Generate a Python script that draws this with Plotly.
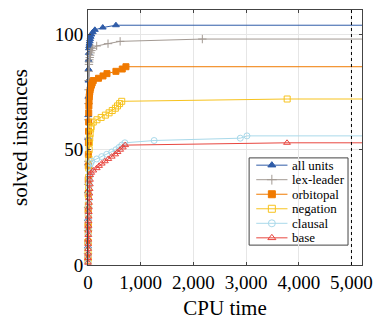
#!/usr/bin/env python3
"""Cactus plot: solved instances over CPU time for the symmetry-breaking variants."""

from __future__ import annotations

import plotly.graph_objects as go

# ---- data ------------------------------------------------------------------
SERIES_NAMES = ["all units", "lex-leader", "orbitopal", "negation", "clausal", "base"]

all_units_time = [0, 1, 2, 3, 4, 5, 6, 8, 10, 12, 15, 18, 22, 27, 33, 40, 50, 65, 90, 130, 280, 530, 6000]
all_units_solved = [8, 20, 32, 44, 55, 65, 73, 80, 85, 89, 92, 94, 95, 96, 97, 98, 99, 100, 101, 102, 103, 104, 104]

lex_leader_time = [0, 1, 2, 3, 4, 5, 6, 8, 10, 12, 15, 18, 22, 27, 33, 40, 50, 65, 90, 165, 380, 610, 2170, 6000]
lex_leader_solved = [5, 15, 25, 35, 45, 55, 63, 70, 76, 80, 84, 87, 88, 89, 90, 91, 92, 93, 94, 95, 96, 97, 98, 98]

orbitopal_time = [0, 1, 2, 3, 4, 5, 6, 7, 8, 10, 12, 14, 17, 20, 24, 28, 33, 40, 50, 65,
                  80, 100, 200, 285, 360, 530, 650, 720, 6000]
orbitopal_solved = [3, 10, 17, 24, 31, 37, 43, 48, 53, 58, 62, 66, 69, 71, 73, 74, 75, 76, 77, 78,
                    79, 80, 81, 82, 83, 84, 85, 86, 86]

negation_time = [0, 1, 2, 3, 4, 5, 6, 8, 10, 12, 15, 18, 22, 27, 33, 40, 50, 60, 100, 170,
                 250, 330, 400, 460, 520, 560, 600, 640, 3780, 6000]
negation_solved = [2, 6, 10, 14, 18, 22, 26, 30, 34, 38, 42, 46, 50, 53, 55, 57, 59, 60, 62, 63,
                   64, 65, 66, 67, 68, 69, 70, 71, 72, 72]

clausal_time = [0, 1, 2, 3, 4, 5, 6, 8, 10, 12, 15, 18, 22, 27, 33, 40, 50, 70, 165, 260,
                355, 450, 530, 590, 640, 700, 1255, 2890, 3017, 6000]
clausal_solved = [1, 4, 7, 10, 13, 16, 19, 22, 25, 28, 31, 34, 36, 38, 40, 42, 44, 45, 46, 47,
                  48, 49, 50, 51, 52, 53, 54, 55, 56, 56]

base_time = [0, 1, 2, 3, 4, 5, 6, 7, 8, 10, 12, 14, 16, 19, 22, 26, 30, 34, 37, 40,
             60, 100, 165, 210, 260, 320, 385, 450, 515, 560, 610, 660, 705, 3777, 6000]
base_solved = [1, 3, 5, 7, 9, 11, 13, 15, 17, 19, 21, 23, 25, 27, 29, 31, 33, 35, 37, 39,
               40, 41, 42, 43, 44, 45, 46, 47, 48, 49, 50, 51, 52, 53, 53]

TIME_LIMIT = 5000
x_ticks = [0, 1000, 2000, 3000, 4000, 5000]
y_ticks = [0, 50, 100]

# ---- styling ---------------------------------------------------------------
FONT = "Liberation Serif"
STYLES = {
    "all units": {"color": "#2f5ca8", "symbol": "triangle-up"},
    "lex-leader": {"color": "#a39a93", "symbol": "cross-thin"},
    "orbitopal": {"color": "#f07a00", "symbol": "square"},
    "negation": {"color": "#f7c31e", "symbol": "square-open"},
    "clausal": {"color": "#a9d9ea", "symbol": "circle-open"},
    "base": {"color": "#e8463f", "symbol": "triangle-up-open"},
}


def marker_for(name: str, size: int = 6) -> dict:
    style = STYLES[name]
    return {
        "symbol": style["symbol"],
        "size": size,
        "color": style["color"],
        "line": {"color": style["color"], "width": 1},
    }


def add_series(fig: go.Figure) -> None:
    data = [
        ("all units", all_units_time, all_units_solved),
        ("lex-leader", lex_leader_time, lex_leader_solved),
        ("orbitopal", orbitopal_time, orbitopal_solved),
        ("negation", negation_time, negation_solved),
        ("clausal", clausal_time, clausal_solved),
        ("base", base_time, base_solved),
    ]
    for name, times, solved in data:
        fig.add_trace(
            go.Scatter(
                x=times,
                y=solved,
                mode="lines+markers",
                name=name,
                line={"color": STYLES[name]["color"], "width": 1},
                marker=marker_for(name),
                cliponaxis=False,
                showlegend=False,
            )
        )


def add_manual_legend(fig: go.Figure) -> None:
    # pgfplots-style compact legend drawn on an invisible overlay axis (paper units)
    box = {"x0": 0.588, "x1": 0.949, "y0": 0.078, "y1": 0.42}
    fig.add_shape(
        type="rect", xref="paper", yref="paper", **box,
        line={"color": "#444444", "width": 1}, fillcolor="white", layer="between",
    )
    row_gap = (box["y1"] - box["y0"]) / len(SERIES_NAMES)
    seg_left, seg_right = box["x0"] + 0.026, box["x0"] + 0.14
    text_left = seg_right + 0.008
    for i, name in enumerate(SERIES_NAMES):
        y = box["y1"] - row_gap * (i + 0.5)
        color = STYLES[name]["color"]
        fig.add_trace(
            go.Scatter(
                x=[seg_left, seg_right], y=[y, y], xaxis="x2", yaxis="y2",
                mode="lines", line={"color": color, "width": 1},
                showlegend=False, hoverinfo="skip",
            )
        )
        fig.add_trace(
            go.Scatter(
                x=[(seg_left + seg_right) / 2], y=[y], xaxis="x2", yaxis="y2",
                mode="markers", marker=marker_for(name, 7),
                showlegend=False, hoverinfo="skip",
            )
        )
        fig.add_annotation(
            x=text_left, y=y, xref="paper", yref="paper", text=name,
            showarrow=False, xanchor="left", yanchor="middle",
            font={"family": FONT, "size": 13, "color": "black"},
        )


def build_figure() -> go.Figure:
    fig = go.Figure()
    add_series(fig)

    fig.add_shape(
        type="line", x0=TIME_LIMIT, x1=TIME_LIMIT, y0=0, y1=1, xref="x", yref="paper",
        line={"color": "black", "width": 1, "dash": "dot"},
    )
    add_manual_legend(fig)

    axis_common = {
        "showline": True,
        "linecolor": "#444444",
        "linewidth": 1,
        "mirror": "ticks",
        "ticks": "inside",
        "ticklen": 3,
        "tickcolor": "#444444",
        "showgrid": True,
        "gridcolor": "#e6e6e6",
        "gridwidth": 1,
        "zeroline": False,
        "automargin": False,
        "tickfont": {"family": FONT, "size": 19, "color": "black"},
    }
    # page body keeps its default 8px margin, so the figure is sized to fit inside it
    fig.update_layout(
        width=381,
        height=321,
        margin={"l": 80, "r": 27, "t": 2, "b": 64},
        paper_bgcolor="white",
        plot_bgcolor="white",
        font={"family": FONT, "color": "black"},
        xaxis={
            **axis_common,
            "range": [0, 5200],
            "tickvals": x_ticks,
            "tickformat": ",d",
            "title": {"text": "CPU time", "font": {"family": FONT, "size": 21}, "standoff": 8},
        },
        yaxis={
            **axis_common,
            "range": [0, 110.6],
            "tickvals": y_ticks,
            "title": {"text": "solved instances", "font": {"family": FONT, "size": 21}, "standoff": 21},
        },
        xaxis2={"overlaying": "x", "range": [0, 1], "visible": False, "fixedrange": True},
        yaxis2={"overlaying": "y", "range": [0, 1], "visible": False, "fixedrange": True},
        showlegend=False,
    )
    return fig


def main() -> None:
    fig = build_figure()
    fig.write_html("out.html")


if __name__ == "__main__":
    main()
